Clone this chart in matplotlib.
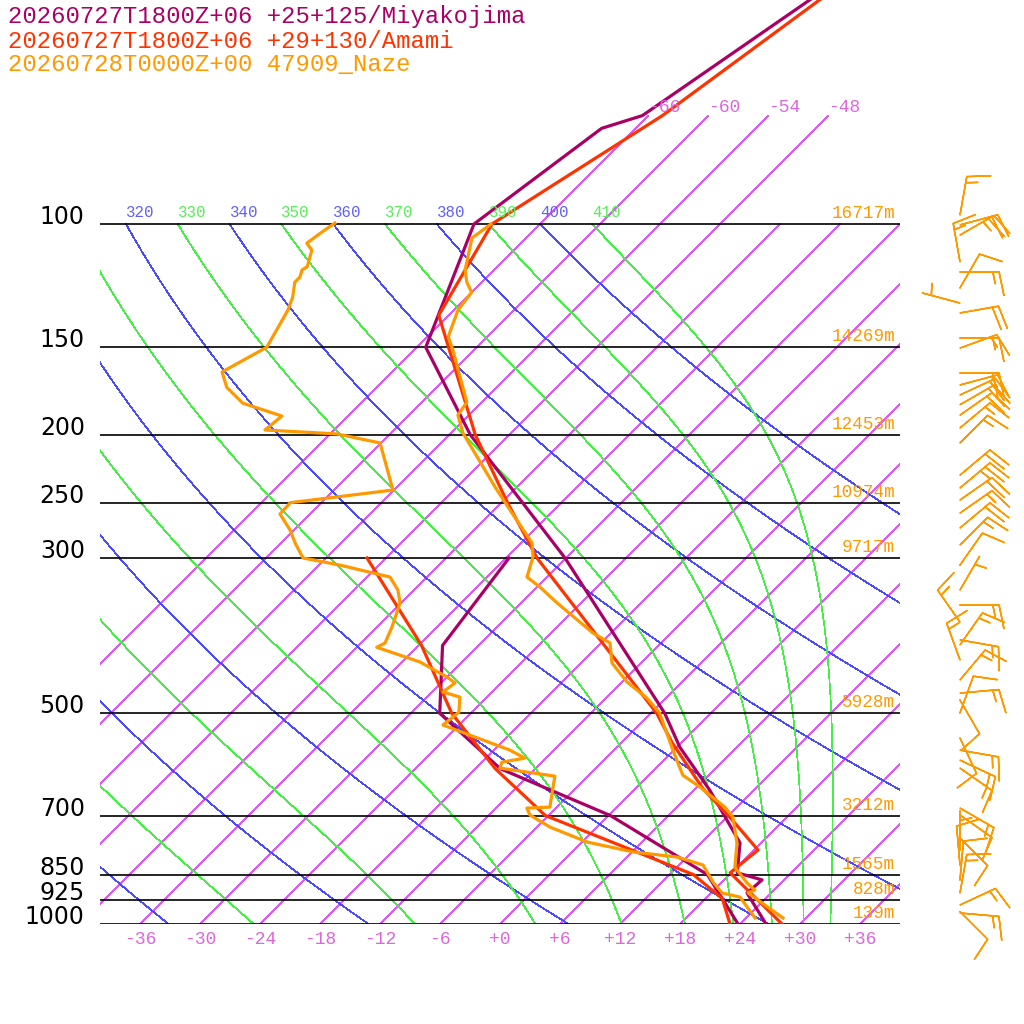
import numpy as np
import matplotlib
matplotlib.use('Agg')
import matplotlib.pyplot as plt
from matplotlib import transforms

# --- soundings: pressure (hPa), temperature / dewpoint (degC) ---
miy_t_p = [40, 70, 73, 100, 150, 200, 300, 500, 559, 644, 766, 845, 865, 903, 1000]
miy_t = [-59.0, -66.6, -69.4, -72.6, -65.1, -51.9, -30.1, -4.6, 0.3, 7.6, 15.9, 18.6, 21.8, 21.6, 26.6]
miy_td_p = [300, 400, 500, 600, 700, 850, 1000]
miy_td = [-35.7, -33.6, -27.1, -15.5, 0.2, 15.8, 23.8]

ama_t_p = [40, 70, 100, 135, 200, 250, 300, 500, 551, 640, 710, 784, 845, 1000]
ama_t = [-58.5, -64.6, -70.8, -67.0, -51.4, -41.4, -32.9, -5.4, -0.9, 6.7, 12.8, 18.4, 17.9, 28.2]
ama_td_p = [300, 400, 500, 600, 700, 850, 920, 1000]
ama_td = [-49.9, -35.7, -25.9, -16.0, -6.3, 14.4, 19.7, 23.0]

naze_t_p = [100, 104.7, 116.3, 121.1, 125.2, 132.7, 144.9, 151.4, 179.7, 187.5, 198.9, 237.5,
            256.2, 285.5, 299, 319.4, 330.1, 347.8, 384, 396.8, 423.8, 451.1, 475.6, 500,
            564.4, 583.4, 612.9, 637.3, 680.8, 703.5, 766.2, 829.3, 873.8, 894.4, 903, 980.4]
naze_t = [-70.9, -71.4, -68.9, -67.5, -66.0, -65.6, -63.9, -62.1, -55.5, -55.1, -52.8, -44.2,
          -40.4, -34.9, -33.4, -32.0, -29.7, -26.4, -19.8, -17.1, -14.9, -11.5, -7.9, -5.1,
          -0.1, 1.3, 3.4, 6.3, 10.8, 12.6, 15.6, 17.8, 20.6, 22.1, 21.7, 27.7]
naze_td_p = [99.7, 102.7, 106.5, 109.0, 115.1, 116.3, 119.1, 121.1, 127.3, 132.7, 150.0, 162.7,
             171.1, 180.3, 188.1, 196.9, 199.5, 205.5, 239.9, 250.1, 259.6, 273.6, 285.5, 300.0,
             307.1, 319.4, 333.4, 347.8, 376.5, 396.8, 402.4, 422.4, 443.8, 452.5, 466.2, 474.1,
             498.0, 519.7, 564.4, 579.5, 587.2, 598.8, 614.9, 680.8, 683.0, 698.8, 727.0, 763.6,
             789.0, 802.3, 823.6, 870.9, 903.0, 915.2, 980.4]
naze_td = [-86.6, -87.0, -87.4, -86.2, -85.0, -85.2, -84.7, -84.7, -83.4, -82.6, -81.0, -83.0,
           -81.0, -77.8, -72.6, -72.9, -65.3, -60.1, -54.1, -63.1, -63.0, -60.4, -58.6, -56.3,
           -51.9, -45.7, -43.6, -42.1, -40.5, -39.6, -40.0, -34.2, -30.0, -28.6, -28.9, -26.7,
           -25.3, -25.6, -16.4, -14.1, -16.0, -15.6, -9.3, -6.7, -8.9, -7.9, -4.7, 0.5,
           6.1, 11.0, 14.4, 17.1, 19.1, 21.3, 24.9]

# Naze winds: pressure, direction (deg from), speed (kt)
wind_p = [97.1, 100.3, 103.7, 113.3, 117.1, 123.4, 129.7, 134.0, 145.5, 150.4, 163.3, 169.8,
          175.5, 181.2, 187.5, 195.6, 205.5, 228.4, 238.3, 247.9, 258.8, 271.8, 287.4, 307.1,
          333.4, 350.3, 370.4, 392.8, 399.3, 419.6, 448.1, 467.8, 478.6, 499.4, 542.5, 564.4,
          583.4, 598.8, 683.0, 698.8, 753.5, 784.0, 823.6, 865.3, 903.0, 939.4, 964.5, 960.0]
wind_dir = [10, 75, 60, 350, 90, 30, 285, 80, 90, 70, 90, 75,
            65, 60, 55, 50, 45, 50, 50, 55, 55, 50, 45, 35,
            30, 90, 325, 100, 35, 340, 40, 85, 150, 20, 155, 100,
            115, 125, 120, 125, 135, 0, 355, 5, 10, 65, 95, 135]
wind_spd = [15, 20, 25, 15, 15, 10, 5, 20, 15, 15, 20, 15,
            20, 20, 20, 15, 15, 20, 25, 20, 15, 20, 15, 10,
            5, 15, 15, 15, 15, 15, 15, 15, 10, 10, 10, 15,
            15, 15, 15, 10, 10, 5, 10, 10, 15, 15, 15, 10]

levels = [100, 150, 200, 250, 300, 500, 700, 850, 925, 1000]
level_labels = ['100', '150', '200', '250', '300', '500', '700', '850', '925', '1000']
naze_heights = ['16717m', '14269m', '12453m', '10974m', '9717m', '5928m', '3212m', '1565m', '828m', '139m']

titles = ['20260727T1800Z+06 +25+125/Miyakojima',
          '20260727T1800Z+06 +29+130/Amami',
          '20260728T0000Z+00 47909_Naze']

isotherms = list(range(-66, 37, 6))
iso_labelled = [-66, -60, -54, -48]
dry_thetas = list(range(240, 401, 20))
moist_thetas = list(range(250, 411, 20))
t_ticks = list(range(-36, 37, 6))

C_MIY = '#aa0066'
C_AMA = '#ff3300'
C_NAZE = '#ff9900'
C_ISO = '#dc58f6'
C_ISO_TXT = '#dd66dd'
C_DRY = '#4a4aff'
C_MOIST = '#44ee44'

SKEW = 70.0
KAPPA = 0.2857
RD, CP, LV, EPS = 287.04, 1005.7, 2.501e6, 0.622
P_TOP = 1000.0 * 10 ** (-924.0 / 700.0)


def skew(t, p):
    return np.asarray(t, float) + SKEW * np.log10(1000.0 / np.asarray(p, float))


def dtdp(t, p):
    es = 6.112 * np.exp(17.67 * (t - 273.15) / (t - 29.65))
    rs = EPS * es / (p - es)
    return (RD * t + LV * rs) / (p * (CP + LV * LV * rs * EPS / (RD * t * t)))


def pseudo_adiabat(theta, pp):
    t = theta * (pp[0] / 1000.0) ** KAPPA
    out = [t]
    for p0, p1 in zip(pp[:-1], pp[1:]):
        h = p1 - p0
        k1 = dtdp(t, p0)
        k2 = dtdp(t + h / 2 * k1, p0 + h / 2)
        k3 = dtdp(t + h / 2 * k2, p0 + h / 2)
        k4 = dtdp(t + h * k3, p1)
        t = t + h / 6 * (k1 + 2 * k2 + 2 * k3 + k4)
        out.append(t)
    return np.array(out) - 273.15


fig = plt.figure(figsize=(10.24, 10.24), dpi=100)
ax = fig.add_axes([100 / 1024, 100 / 1024, 800 / 1024, 924 / 1024])
ax.set_yscale('log')
ax.set_ylim(1000, P_TOP)
ax.set_xlim(-40, 40)
ax.axis('off')

mono = 'Liberation Mono'
up5 = transforms.offset_copy(ax.transData, fig, x=0, y=4, units='dots')
thin = dict(lw=0.5, antialiased=False)

# isotherms
for t in isotherms:
    ptop = 70 if t in iso_labelled else 100
    ax.plot(skew([t, t], [1000, ptop]), [1000, ptop], color=C_ISO, **thin)
    if t in iso_labelled:
        ax.text(skew(t, 70), 70, '%d' % t, color=C_ISO_TXT, fontsize=13, family=mono,
                ha='left', va='bottom')

pp = np.geomspace(100, 1000, 300)
for th in dry_thetas:
    tt = th * (pp / 1000.0) ** KAPPA - 273.15
    ax.plot(skew(tt, pp), pp, color=C_DRY, **thin)
    x100 = skew(tt[0], 100)
    if x100 > -40:
        ax.text(x100, 100, str(th), color='#6060ff', fontsize=11.3, family=mono,
                ha='left', va='bottom', transform=up5)
for th in moist_thetas:
    tt = pseudo_adiabat(th, pp)
    ax.plot(skew(tt, pp), pp, color=C_MOIST, **thin)
    x100 = skew(tt[0], 100)
    if x100 > -40:
        ax.text(x100, 100, str(th), color='#55ee55', fontsize=11.3, family=mono,
                ha='left', va='bottom', transform=up5)

ylab = ax.get_yaxis_transform()
for p, lab, h in zip(levels, level_labels, naze_heights):
    ax.axhline(p, color='black', lw=1.2)
    ax.text(-0.019, p, lab, transform=ylab, ha='right', va='baseline', fontsize=17,
            family='DejaVu Sans', color='black', clip_on=False)
    ax.text(0.994, p, h, transform=transforms.offset_copy(ylab, fig, x=0, y=2, units='dots'),
            ha='right', va='bottom', fontsize=12.7, family=mono, color=C_NAZE)

down = transforms.offset_copy(ax.transData, fig, x=0, y=-7, units='dots')
for t in t_ticks:
    ax.text(t, 1000, '%+d' % t, transform=down, ha='center', va='top', fontsize=13,
            family=mono, color=C_ISO_TXT, clip_on=False)

lw = 2.3
ax.plot(skew(miy_t, miy_t_p), miy_t_p, color=C_MIY, lw=lw)
ax.plot(skew(miy_td, miy_td_p), miy_td_p, color=C_MIY, lw=lw)
ax.plot(skew(ama_t, ama_t_p), ama_t_p, color=C_AMA, lw=lw)
ax.plot(skew(ama_td, ama_td_p), ama_td_p, color=C_AMA, lw=lw)
ax.plot(skew(naze_t, naze_t_p), naze_t_p, color=C_NAZE, lw=lw)
ax.plot(skew(naze_td, naze_td_p), naze_td_p, color=C_NAZE, lw=lw)

# wind barbs column
axw = fig.add_axes([900 / 1024, 100 / 1024, 124 / 1024, 924 / 1024], sharey=ax)
axw.set_xlim(0, 124)
axw.axis('off')
wd = np.radians(wind_dir)
ws = np.asarray(wind_spd, float)
u = -ws * np.sin(wd)
v = -ws * np.cos(wd)
axw.barbs(np.full(len(wind_p), 60.0), wind_p, u, v, color=C_NAZE, length=7.5, lw=1.1,
          sizes=dict(height=0.6, spacing=0.16), clip_on=False)

for i, (txt, c) in enumerate(zip(titles, [C_MIY, C_AMA, C_NAZE])):
    fig.text(8 / 1024, 1 - (17 + 24 * i) / 1024, txt, color=c, fontsize=17.2, family=mono,
             ha='left', va='center')

fig.savefig('out.png', dpi=100)
